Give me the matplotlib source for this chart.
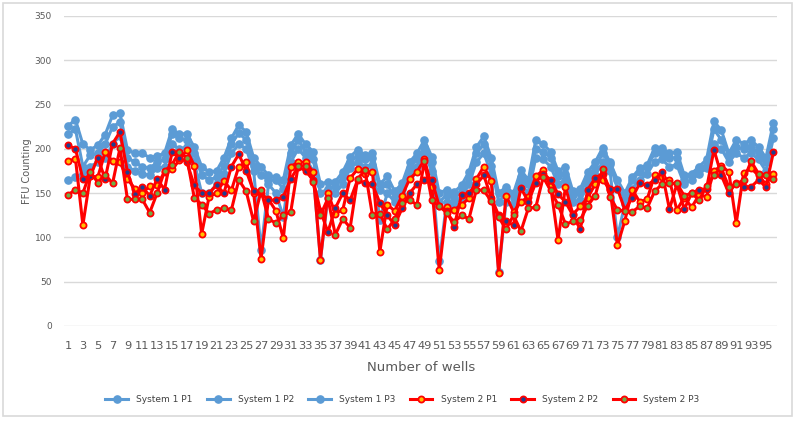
import numpy as np
import matplotlib
matplotlib.use('Agg')
from matplotlib import pyplot as plt
from matplotlib.patches import Rectangle

wells = np.arange(1, 97)

s1_p1 = [226, 233, 205, 199, 204, 216, 238, 240, 199, 195, 195, 190, 192, 195, 222, 217,
         217, 202, 180, 174, 175, 190, 212, 227, 219, 190, 180, 170, 168, 165, 204, 217,
         205, 197, 160, 163, 163, 174, 191, 199, 193, 195, 160, 169, 152, 161, 185, 195,
         210, 191, 150, 154, 151, 159, 174, 202, 214, 190, 150, 157, 150, 176, 165, 210,
         205, 197, 175, 180, 152, 155, 174, 185, 201, 185, 165, 150, 168, 178, 182, 201,
         201, 195, 197, 170, 172, 180, 188, 231, 221, 195, 210, 206, 210, 202, 190, 229]
s1_p2 = [217, 222, 180, 193, 195, 205, 225, 230, 190, 185, 180, 178, 185, 188, 217, 212,
         210, 195, 170, 165, 168, 181, 205, 218, 210, 181, 170, 165, 165, 155, 195, 210,
         197, 188, 150, 155, 158, 168, 185, 192, 188, 190, 154, 160, 145, 155, 178, 188,
         202, 185, 140, 148, 145, 152, 168, 195, 205, 181, 140, 150, 145, 168, 160, 200,
         197, 190, 169, 172, 148, 150, 168, 178, 195, 183, 155, 145, 165, 174, 180, 195,
         195, 190, 190, 165, 171, 178, 182, 222, 210, 193, 202, 200, 202, 195, 185, 222]
s1_p3 = [165, 168, 172, 180, 185, 190, 205, 215, 180, 175, 172, 170, 178, 180, 205, 200,
         202, 185, 150, 150, 160, 172, 195, 205, 200, 175, 86, 160, 150, 123, 185, 200,
         190, 175, 75, 145, 150, 160, 178, 185, 180, 182, 120, 150, 140, 148, 170, 180,
         195, 175, 73, 140, 138, 145, 160, 185, 195, 172, 61, 140, 138, 160, 150, 190,
         188, 180, 160, 165, 140, 142, 160, 170, 185, 175, 100, 138, 155, 165, 172, 185,
         188, 180, 182, 160, 165, 172, 178, 205, 200, 185, 195, 190, 195, 188, 175, 212]

s2_p1 = [186, 189, 114, 169, 168, 196, 186, 185, 166, 155, 150, 158, 159, 174, 177, 187,
         199, 181, 104, 146, 150, 164, 153, 180, 185, 150, 76, 143, 130, 99, 180, 185,
         185, 174, 75, 150, 127, 131, 167, 177, 172, 174, 84, 137, 130, 147, 166, 174,
         188, 157, 63, 134, 131, 137, 144, 166, 180, 164, 60, 147, 129, 140, 146, 169,
         176, 158, 97, 157, 126, 135, 145, 160, 165, 154, 91, 119, 154, 140, 143, 170,
         168, 165, 131, 145, 134, 148, 146, 175, 181, 174, 116, 173, 178, 170, 160, 172]
s2_p2 = [204, 200, 166, 169, 190, 166, 206, 219, 174, 149, 157, 147, 166, 154, 196, 190,
         185, 159, 150, 150, 159, 150, 180, 194, 175, 152, 150, 142, 142, 146, 166, 180,
         175, 165, 130, 106, 133, 150, 142, 165, 161, 160, 139, 125, 114, 133, 150, 160,
         165, 165, 135, 130, 112, 148, 150, 160, 170, 145, 125, 118, 114, 156, 140, 162,
         172, 165, 149, 140, 125, 109, 154, 167, 172, 155, 155, 131, 145, 161, 159, 165,
         174, 132, 160, 132, 150, 154, 155, 199, 170, 150, 162, 157, 157, 165, 157, 196]
s2_p3 = [148, 154, 150, 174, 162, 171, 161, 201, 143, 143, 143, 128, 150, 175, 182, 197,
         190, 145, 137, 127, 131, 133, 131, 165, 152, 118, 153, 121, 116, 125, 129, 181,
         181, 163, 125, 144, 103, 121, 111, 166, 176, 125, 127, 109, 121, 139, 142, 137,
         186, 142, 135, 128, 117, 125, 121, 154, 153, 141, 123, 109, 125, 107, 133, 134,
         168, 153, 137, 115, 118, 120, 136, 147, 177, 146, 131, 130, 129, 135, 133, 152,
         160, 161, 161, 147, 150, 142, 158, 171, 178, 157, 160, 165, 186, 172, 170, 166]

names = ['System 1 P1', 'System 1 P2', 'System 1 P3',
         'System 2 P1', 'System 2 P2', 'System 2 P3']
fills = ['#5B9BD5', '#5B9BD5', '#5B9BD5', '#FFC000', '#1F3F8F', '#70AD47']

fig = plt.figure(figsize=(7.97, 4.21), dpi=100)
ax = fig.add_axes([0.0807, 0.2257, 0.8943, 0.7363])

# system 1: blue lines, blue dots
for ys, nm, fc in zip([s1_p1, s1_p2, s1_p3], names[:3], fills[:3]):
    ax.plot(wells, ys, color='#5B9BD5', lw=2.2, marker='o', ms=5.2,
            mfc=fc, mec='#5B9BD5', label=nm, zorder=2)
# system 2: red lines, coloured dots with red rim
for ys, nm, fc in zip([s2_p1, s2_p2, s2_p3], names[3:], fills[3:]):
    ax.plot(wells, ys, color='#FF0000', lw=2.2, marker='o', ms=4.4,
            mfc=fc, mec='#FF0000', mew=1.3, label=nm, zorder=3)

ax.set_xlim(0.5, 96.5)
ax.set_ylim(0, 350)
ax.set_yticks(range(0, 351, 50))
ax.set_xticks(wells[::2])
ax.set_xticklabels([str(w) for w in wells[::2]], fontsize=8.2, color='#595959')
ax.tick_params(axis='y', labelsize=6.5, colors='#595959', length=0, pad=9)
ax.tick_params(axis='x', length=0, pad=11)
ax.grid(axis='y', color='#D9D9D9', lw=1)
ax.set_axisbelow(True)
for sp in ax.spines.values():
    sp.set_visible(False)

ax.set_xlabel('Number of wells', fontsize=9.5, color='#595959', labelpad=7)
ax.set_ylabel('FFU Counting', fontsize=7, color='#595959', labelpad=2)

leg = fig.legend(loc='center', bbox_to_anchor=(0.505, 0.05), ncol=6, frameon=False,
                 fontsize=6.5, handlelength=2.5, columnspacing=1.6, handletextpad=0.9)
for t in leg.get_texts():
    t.set_color('#404040')

fig.patches.append(Rectangle((0.004, 0.012), 0.99, 0.98, transform=fig.transFigure,
                             fill=False, ec='#D9D9D9', lw=1.2))

fig.savefig('out.png', dpi=100)
